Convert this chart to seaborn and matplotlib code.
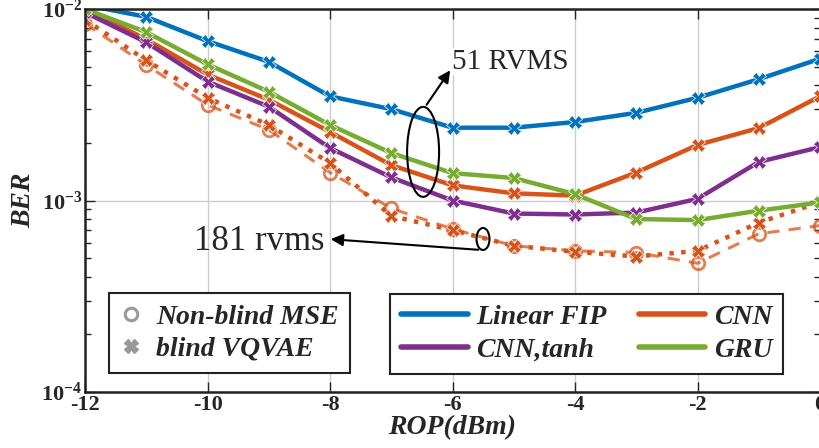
import numpy as np
import pandas as pd
import matplotlib
matplotlib.use('Agg')
import matplotlib.pyplot as plt
import seaborn as sns
from matplotlib.patches import Ellipse
from matplotlib.lines import Line2D

# data
rop = [-12, -11, -10, -9, -8, -7, -6, -5, -4, -3, -2, -1, 0]
linear_fip = [1.05e-2, 9.1e-3, 6.8e-3, 5.3e-3, 3.5e-3, 3.0e-3, 2.4e-3, 2.4e-3, 2.57e-3, 2.87e-3, 3.44e-3, 4.3e-3, 5.5e-3]
cnn = [1.0e-2, 6.95e-3, 4.55e-3, 3.36e-3, 2.28e-3, 1.53e-3, 1.2e-3, 1.09e-3, 1.06e-3, 1.4e-3, 1.95e-3, 2.39e-3, 3.5e-3]
cnn_tanh = [9.6e-3, 6.7e-3, 4.18e-3, 3.09e-3, 1.88e-3, 1.32e-3, 1.0e-3, 8.55e-4, 8.45e-4, 8.65e-4, 1.02e-3, 1.59e-3, 1.9e-3]
gru = [1.0e-2, 7.57e-3, 5.14e-3, 3.7e-3, 2.48e-3, 1.77e-3, 1.39e-3, 1.31e-3, 1.08e-3, 8.0e-4, 7.9e-4, 8.85e-4, 9.77e-4]
non_blind_mse = [8.4e-3, 5.1e-3, 3.16e-3, 2.34e-3, 1.4e-3, 9.1e-4, 7.1e-4, 5.8e-4, 5.46e-4, 5.35e-4, 4.7e-4, 6.7e-4, 7.4e-4]
blind_vqvae = [8.8e-3, 5.4e-3, 3.44e-3, 2.48e-3, 1.57e-3, 8.3e-4, 7.0e-4, 5.8e-4, 5.4e-4, 5.1e-4, 5.46e-4, 7.66e-4, 9.8e-4]

x_ticks = [-12, -10, -8, -6, -4, -2, 0]
y_ticks = [1e-4, 1e-3, 1e-2]
y_ticklabels = [r'$\mathbf{10^{-4}}$', r'$\mathbf{10^{-3}}$', r'$\mathbf{10^{-2}}$']

BLUE, ORANGE, PURPLE, GREEN = '#0072BD', '#D95319', '#7E2F8E', '#77AC30'

sns.set_style('ticks')
plt.rcParams['font.family'] = ['Liberation Serif', 'DejaVu Serif']
plt.rcParams['mathtext.fontset'] = 'custom'
plt.rcParams['mathtext.rm'] = 'Liberation Serif'
plt.rcParams['mathtext.bf'] = 'Liberation Serif:bold'

fig = plt.figure(figsize=(8.19, 4.48), dpi=100)
ax = fig.add_axes([85 / 819, 56 / 448, 735 / 819, 383 / 448])

# orange dashed / dotted (under the solid curves)
sns.lineplot(x=rop, y=non_blind_mse, ax=ax, color=ORANGE, alpha=0.75, linestyle=(0, (4, 3)),
             linewidth=2.2, marker='o', markersize=9, markerfacecolor='none',
             markeredgecolor=ORANGE, markeredgewidth=2)
sns.lineplot(x=rop, y=blind_vqvae, ax=ax, color=ORANGE, linestyle=':', linewidth=3.2,
             marker='X', markersize=10, markeredgewidth=0.5)

for vals, col in [(linear_fip, BLUE), (cnn, ORANGE), (cnn_tanh, PURPLE), (gru, GREEN)]:
    sns.lineplot(x=rop, y=vals, ax=ax, color=col, linewidth=3.2,
                 marker='X', markersize=10, markeredgewidth=0.5)

ax.set_yscale('log')
ax.set_xlim(-12, 0)
ax.set_ylim(1e-4, 1e-2)
ax.set_xticks(x_ticks)
ax.set_xticklabels([str(t) for t in x_ticks], fontsize=16, fontweight='bold')
ax.set_yticks(y_ticks)
ax.set_yticklabels(y_ticklabels, fontsize=16)
ax.tick_params(axis='both', which='both', direction='in', top=True, right=True)
ax.tick_params(axis='both', which='major', length=7, width=1, pad=2)
ax.tick_params(axis='y', which='minor', length=4, width=1)
ax.grid(True, which='major', color='#cccccc', linewidth=1)
for s in ax.spines.values():
    s.set_linewidth(1.8)
    s.set_color('#222222')

ax.set_xlabel('ROP(dBm)', fontsize=20, fontweight='bold', fontstyle='italic', labelpad=0)
ax.set_ylabel('BER', fontsize=20, fontweight='bold', fontstyle='italic', labelpad=4)

# annotations
ax.add_patch(Ellipse((0.46, 0.627), 0.0435, 0.235, transform=ax.transAxes,
                     fill=False, edgecolor='black', linewidth=1.5, zorder=10))
ax.annotate('', xy=(0.499, 0.846), xytext=(0.4626, 0.744), xycoords='axes fraction',
            arrowprops=dict(arrowstyle='-|>', color='black', lw=1.5, mutation_scale=18), zorder=10)
ax.text(0.500, 0.862, '51 RVMS', transform=ax.transAxes, ha='left', va='center',
        fontsize=21, zorder=10, bbox=dict(facecolor='white', edgecolor='none', pad=0.5))

ax.add_patch(Ellipse((0.5415, 0.3995), 0.0177, 0.0574, transform=ax.transAxes,
                     fill=False, edgecolor='black', linewidth=1.5, zorder=10))
ax.annotate('', xy=(0.3306, 0.3995), xytext=(0.5388, 0.3708), xycoords='axes fraction',
            arrowprops=dict(arrowstyle='-|>', color='black', lw=1.5, mutation_scale=18), zorder=10)
ax.text(0.3265, 0.392, '181 rvms', transform=ax.transAxes, ha='right', va='center',
        fontsize=25, zorder=10)

# legends
leg_font = dict(family='Liberation Serif', weight='bold', style='italic', size=20)
h1 = [Line2D([], [], linestyle='none', marker='o', markersize=9, markerfacecolor='none',
             markeredgecolor='#999999', markeredgewidth=2.2),
      Line2D([], [], linestyle='none', marker='X', markersize=10, color='#999999')]
leg1 = ax.legend(h1, ['Non-blind MSE', 'blind VQVAE'], loc='center',
                 bbox_to_anchor=(0.030, 0.031, 0.333, 0.246), prop=leg_font,
                 frameon=True, fancybox=False, edgecolor='#222222', framealpha=1,
                 handlelength=0.8, handletextpad=0.5, labelspacing=0.25, borderpad=0.4)
leg1.get_frame().set_linewidth(1.5)
ax.add_artist(leg1)

h2 = [Line2D([], [], color=BLUE, lw=4), Line2D([], [], color=PURPLE, lw=4),
      Line2D([], [], color=ORANGE, lw=4), Line2D([], [], color=GREEN, lw=4)]
leg2 = ax.legend(h2, ['Linear FIP', 'CNN,tanh', 'CNN', 'GRU'], loc='center', ncol=2,
                 bbox_to_anchor=(0.396, 0.031, 0.573, 0.243), mode='expand', prop=leg_font,
                 frameon=True, fancybox=False, edgecolor='#222222', framealpha=1,
                 handlelength=2.4, handletextpad=0.3, labelspacing=0.25, borderpad=0.4,
                 columnspacing=1.0)
leg2.get_frame().set_linewidth(1.5)

fig.savefig('out.png', dpi=100)
